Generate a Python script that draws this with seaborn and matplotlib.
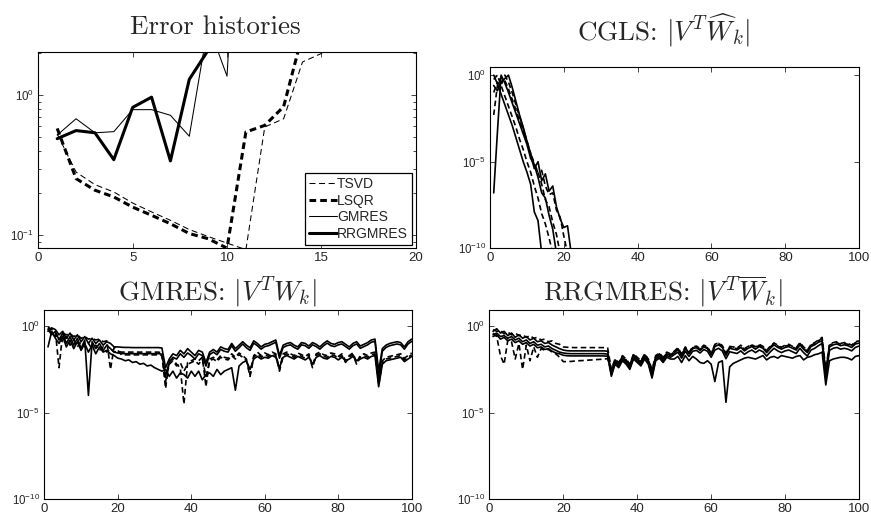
import numpy as np
import matplotlib
matplotlib.use("Agg")
import matplotlib.pyplot as plt
import seaborn as sns

# ---------------------------------------------------------------
# style: plain MATLAB-like look
# ---------------------------------------------------------------
sns.set_style("ticks")
plt.rcParams['font.family'] = ['Liberation Sans', 'DejaVu Sans']
plt.rcParams['mathtext.fontset'] = 'custom'
plt.rcParams['mathtext.rm'] = 'Liberation Sans'
plt.rcParams['mathtext.it'] = 'Liberation Sans:italic'
plt.rcParams['mathtext.bf'] = 'Liberation Sans:bold'
plt.rcParams['mathtext.sf'] = 'Liberation Sans'
plt.rcParams['lines.scale_dashes'] = False
plt.rcParams['axes.linewidth'] = 0.8
plt.rcParams['axes.edgecolor'] = 'black'

# ---------------------------------------------------------------
# data: error histories (iterations 1..)
# ---------------------------------------------------------------
tsvd_err = [0.53, 0.283, 0.23, 0.204, 0.17, 0.147, 0.128, 0.11, 0.098, 0.088,
            0.079, 0.594, 0.68, 1.73, 1.99, 2.6]
lsqr_err = [0.58, 0.254, 0.21, 0.188, 0.159, 0.139, 0.121, 0.103, 0.0946, 0.081,
            0.547, 0.61, 0.83, 2.73]
gmres_err = [0.52, 0.68, 0.54, 0.55, 0.79, 0.79, 0.72, 0.51, 3.2, 1.37, 300.0]
rrgmres_err = [0.49, 0.56, 0.54, 0.347, 0.82, 0.97, 0.34, 1.30, 2.1, 10.0]

# CGLS: log10 |V^T W_k| for the first singular vectors
cgls_1 = [0.0, -0.5, -1.1, -1.7, -2.3, -2.9, -3.6, -4.3, -5.0, -5.6, -6.3, -7.9, -8.4, -10.3]
cgls_2 = [-0.25, 0.0, -0.6, -1.2, -1.8, -2.4, -3.0, -3.7, -4.3, -5.0, -5.6, -6.4, -7.1, -8.0,
          -8.6, -9.4, -10.3]
cgls_3 = [-6.8, -3.3, 0.0, -0.45, -1.0, -1.6, -2.2, -2.8, -3.4, -4.0, -4.8, -5.2, -5.9, -6.8,
          -7.1, -8.1, -8.9, -10.3]
cgls_4 = [-2.3, -0.6, -0.1, -0.3, -0.8, -1.4, -2.0, -2.6, -3.2, -3.9, -4.5, -5.1, -5.6, -6.3,
          -7.2, -7.6, -8.5, -9.2, -10.3]
cgls_5 = [-0.6, -0.9, -0.4, -0.2, 0.0, -0.7, -1.5, -2.3, -3.0, -3.8, -4.6, -5.4, -5.0, -6.1,
          -5.7, -6.7, -6.4, -7.6, -8.3, -8.8, -8.7, -10.3]
cgls_6 = [-1.0, -0.4, -0.6, 0.0, -0.4, -1.0, -1.7, -2.4, -3.1, -3.8, -4.5, -5.2, -5.6, -5.5,
          -6.4, -6.9, -6.8, -7.8, -8.2, -9.3, -10.3]

# GMRES: log10 |V^T W_k|, k = 1..100
gmres_1 = [-0.3, -0.1, -0.2, -0.5, -0.3, -0.7, -0.4, -0.8, -0.5, -0.9,
           -0.6, -1.0, -0.7, -1.0, -0.8, -1.1, -0.9, -1.0, -1.2, -1.2,
           -1.22, -1.23, -1.23, -1.24, -1.24, -1.24, -1.24, -1.24, -1.24, -1.24,
           -1.24, -1.26, -2.4, -1.9, -1.6, -1.7, -1.4, -1.6, -1.3, -1.5,
           -1.7, -1.4, -1.5, -2.1, -1.5, -1.35, -1.5, -1.2, -1.3, -1.35,
           -1.0, -1.3, -1.1, -0.9, -1.1, -1.25, -0.85, -1.0, -1.2, -1.05,
           -1.0, -0.9, -0.8, -1.7, -1.1, -1.0, -0.95, -1.1, -1.2, -0.95,
           -1.0, -1.15, -0.95, -1.05, -1.2, -1.0, -0.85, -1.0, -1.05, -0.95,
           -0.9, -1.05, -1.2, -1.0, -0.9, -1.15, -1.05, -0.95, -0.8, -0.75,
           -2.6, -1.3, -1.1, -1.0, -0.95, -0.9, -0.95, -1.2, -0.9, -0.75]
gmres_2 = [-0.05, -0.2, -0.3, -2.4, -0.4, -0.5, -0.45, -0.6, -0.5, -0.7,
           -0.6, -0.75, -0.7, -0.8, -0.75, -0.9, -0.85, -2.5, -1.2, -1.4,
           -1.66, -1.66, -1.66, -1.66, -1.66, -1.66, -1.66, -1.66, -1.66, -1.66,
           -1.66, -1.7, -3.6, -2.0, -1.9, -2.2, -2.4, -4.5, -2.1, -2.0,
           -1.9, -2.0, -1.8, -3.5, -1.9, -1.8, -1.95, -1.7, -1.8, -1.85,
           -1.6, -1.8, -1.55, -1.7, -1.9, -2.8, -1.7, -1.5, -1.7, -1.55,
           -1.65, -1.5, -1.6, -2.5, -1.6, -1.5, -1.6, -1.7, -1.55, -1.65,
           -1.75, -1.6, -2.3, -1.6, -1.5, -1.65, -1.7, -1.55, -1.6, -1.75,
           -1.6, -2.0, -1.7, -1.55, -2.1, -1.7, -1.6, -1.7, -1.55, -1.5,
           -3.2, -2.0, -1.8, -1.75, -1.7, -1.65, -1.6, -1.85, -1.7, -1.55]
gmres_3 = [-0.2, -0.5, -0.3, -0.8, -0.4, -1.0, -0.6, -1.1, -0.7, -1.3,
           -0.8, -4.0, -0.9, -1.3, -1.0, -1.4, -1.1, -1.3, -1.5, -1.55,
           -1.58, -1.59, -1.59, -1.59, -1.59, -1.59, -1.59, -1.59, -1.59, -1.59,
           -1.59, -1.62, -2.9, -2.1, -1.8, -1.9, -1.6, -1.8, -1.55, -1.7,
           -1.9, -1.6, -1.7, -2.3, -1.65, -1.5, -1.65, -1.35, -1.45, -1.5,
           -1.13, -1.45, -1.25, -1.03, -1.25, -1.4, -0.98, -1.13, -1.33, -1.18,
           -1.13, -1.03, -0.93, -1.85, -1.23, -1.13, -1.08, -1.23, -1.33, -1.08,
           -1.13, -1.28, -1.08, -1.18, -1.33, -1.13, -0.98, -1.13, -1.18, -1.08,
           -1.03, -1.18, -1.33, -1.13, -1.03, -1.28, -1.18, -1.08, -0.93, -0.88,
           -2.9, -1.45, -1.23, -1.13, -1.08, -1.03, -1.08, -1.33, -1.03, -0.88]
gmres_4 = [-0.1, -0.4, -0.6, -0.5, -0.9, -0.6, -1.1, -0.8, -1.2, -0.9,
           -1.2, -1.0, -1.3, -1.1, -1.4, -1.2, -1.5, -1.3, -1.5, -1.45,
           -1.5, -1.5, -1.5, -1.5, -1.5, -1.5, -1.5, -1.5, -1.5, -1.5,
           -1.5, -1.55, -3.2, -2.2, -2.0, -2.3, -2.1, -2.6, -2.2, -2.1,
           -2.0, -2.2, -1.9, -2.9, -2.0, -1.9, -2.05, -1.8, -1.9, -1.95,
           -1.7, -1.9, -1.65, -1.8, -2.0, -2.9, -1.8, -1.6, -1.8, -1.65,
           -1.75, -1.6, -1.7, -2.6, -1.7, -1.6, -1.7, -1.8, -1.65, -1.75,
           -1.85, -1.7, -2.4, -1.7, -1.6, -1.75, -1.8, -1.65, -1.7, -1.85,
           -1.7, -2.1, -1.8, -1.65, -2.2, -1.8, -1.7, -1.8, -1.65, -1.6,
           -3.4, -2.1, -1.9, -1.85, -1.8, -1.75, -1.7, -1.95, -1.8, -1.65]
gmres_5 = [-1.2, -0.3, -0.7, -1.0, -0.6, -1.2, -0.8, -1.3, -0.9, -1.4,
           -1.0, -1.5, -1.1, -1.6, -1.2, -1.5, -1.4, -1.6, -1.7, -1.85,
           -1.9, -2.0, -1.95, -2.1, -2.05, -2.2, -2.15, -2.3, -2.25, -2.4,
           -2.5, -2.6, -2.5, -2.9, -2.6, -3.0, -2.7, -2.8, -3.0, -2.6,
           -2.9, -2.6, -3.1, -2.8, -2.7, -2.9, -2.5, -2.8, -2.6, -2.5,
           -2.4, -3.7, -2.3, -2.1, -2.0, -2.5, -1.9, -1.75, -1.9, -1.8,
           -1.85, -1.7, -1.8, -2.4, -1.8, -1.7, -1.8, -1.9, -1.75, -1.85,
           -1.95, -1.8, -2.2, -1.8, -1.7, -1.85, -1.9, -1.75, -1.8, -1.95,
           -1.8, -2.0, -1.9, -1.75, -2.0, -1.9, -1.8, -1.9, -1.75, -1.7,
           -3.5, -2.2, -2.0, -1.95, -1.9, -1.85, -1.8, -2.05, -1.9, -1.75]

# RRGMRES: log10 |V^T W_k|, k = 1..100
rrgmres_1 = [-0.2, -0.3, -0.25, -0.45, -0.35, -0.5, -0.4, -0.55, -0.5, -0.65,
             -0.55, -0.7, -0.65, -0.8, -0.75, -0.9, -0.85, -1.0, -1.05, -1.2,
             -1.22, -1.23, -1.24, -1.24, -1.24, -1.24, -1.24, -1.24, -1.24, -1.24,
             -1.24, -1.26, -2.5, -1.9, -2.1, -1.7, -1.9, -2.2, -1.6, -1.8,
             -2.0, -1.6, -1.9, -2.5, -1.7, -1.55, -1.8, -1.5, -1.6, -1.45,
             -1.25, -1.6, -1.2, -1.5, -1.2, -1.15, -1.3, -1.1, -1.2, -1.55,
             -1.1, -1.0, -1.15, -1.6, -1.2, -1.25, -1.3, -1.15, -1.35, -1.2,
             -1.1, -1.25, -1.1, -1.2, -1.45, -1.2, -1.0, -1.15, -1.25, -1.15,
             -1.1, -1.2, -1.3, -1.0, -1.25, -1.45, -1.1, -1.0, -0.85, -0.7,
             -2.6, -1.1, -1.0, -0.95, -1.05, -1.0, -1.05, -1.15, -0.95, -0.9]
rrgmres_2 = [-0.3, -0.15, -0.4, -0.3, -0.55, -0.4, -0.65, -0.5, -0.7, -0.6,
             -0.8, -0.7, -0.9, -0.85, -1.0, -0.95, -1.1, -1.2, -1.3, -1.38,
             -1.42, -1.43, -1.43, -1.43, -1.43, -1.43, -1.43, -1.43, -1.43, -1.43,
             -1.43, -1.45, -2.7, -2.0, -2.2, -1.8, -2.0, -2.3, -1.7, -1.9,
             -2.1, -1.7, -2.0, -2.7, -1.8, -1.65, -1.9, -1.6, -1.7, -1.55,
             -1.35, -1.7, -1.3, -1.6, -1.3, -1.25, -1.4, -1.2, -1.3, -1.65,
             -1.18, -1.08, -1.23, -1.68, -1.28, -1.33, -1.38, -1.23, -1.43, -1.28,
             -1.18, -1.33, -1.18, -1.28, -1.53, -1.28, -1.08, -1.23, -1.33, -1.23,
             -1.18, -1.28, -1.38, -1.08, -1.33, -1.53, -1.18, -1.08, -0.93, -0.85,
             -2.8, -1.2, -1.08, -1.03, -1.13, -1.08, -1.13, -1.23, -1.03, -0.98]
rrgmres_3 = [-0.5, -0.4, -0.6, -0.55, -0.7, -0.6, -0.8, -0.7, -0.9, -0.8,
             -1.0, -0.9, -1.1, -1.05, -1.2, -1.15, -1.3, -1.4, -1.5, -1.55,
             -1.58, -1.59, -1.59, -1.59, -1.59, -1.59, -1.59, -1.59, -1.59, -1.59,
             -1.59, -1.62, -2.8, -2.1, -2.3, -1.9, -2.1, -2.4, -1.8, -2.0,
             -2.2, -1.8, -2.1, -2.9, -1.9, -1.75, -2.0, -1.7, -1.8, -1.65,
             -1.5, -1.85, -1.45, -1.75, -1.45, -1.4, -1.55, -1.35, -1.45, -1.8,
             -1.38, -1.28, -1.43, -1.88, -1.48, -1.53, -1.58, -1.43, -1.63, -1.48,
             -1.38, -1.53, -1.38, -1.48, -1.73, -1.48, -1.28, -1.43, -1.53, -1.43,
             -1.38, -1.48, -1.58, -1.28, -1.53, -1.73, -1.38, -1.28, -1.13, -1.0,
             -3.0, -1.4, -1.28, -1.23, -1.33, -1.28, -1.33, -1.43, -1.23, -1.15]
rrgmres_4 = [-0.6, -0.5, -0.75, -0.65, -0.85, -0.75, -0.95, -0.85, -1.05, -0.95,
             -1.15, -1.05, -1.25, -1.2, -1.35, -1.3, -1.45, -1.55, -1.6, -1.68,
             -1.71, -1.72, -1.72, -1.72, -1.72, -1.72, -1.72, -1.72, -1.72, -1.72,
             -1.72, -1.74, -2.9, -2.2, -2.4, -2.0, -2.2, -2.5, -1.9, -2.1,
             -2.3, -1.9, -2.2, -3.0, -2.0, -1.85, -2.1, -1.8, -1.9, -1.9,
             -1.75, -2.1, -1.7, -2.0, -1.75, -1.9, -2.1, -2.15, -2.0, -2.2,
             -3.2, -2.1, -2.0, -4.4, -2.35, -2.15, -2.05, -1.95, -1.85, -1.8,
             -1.85, -1.9, -1.8, -1.7, -1.95, -1.8, -1.75, -1.85, -1.7, -1.75,
             -1.8, -1.85, -1.75, -1.7, -1.95, -1.8, -1.75, -1.65, -1.6, -1.5,
             -3.4, -2.0, -1.9, -1.85, -1.8, -1.8, -1.85, -1.95, -1.75, -1.7]
rrgmres_5 = [-0.4, -0.6, -1.7, -2.2, -0.8, -0.9, -1.9, -1.0, -2.5, -1.1,
             -2.0, -1.2, -1.8, -1.3, -1.4, -1.35, -1.5, -1.6, -1.8, -2.05,
             -2.05, -2.04, -2.02, -2.0, -1.99, -1.98, -1.96, -1.95, -1.93, -1.92,
             -1.9, -1.88, -2.6, -1.95, -2.15, -1.75, -1.95, -2.25, -1.65, -1.85,
             -2.05, -1.65, -1.95, -2.6, -1.75, -1.6, -1.85, -1.55, -1.65, -1.5,
             -1.3, -1.65, -1.25, -1.55, -1.25, -1.2, -1.35, -1.15, -1.25, -1.6,
             -1.05, -0.97, -1.12, -1.55, -1.17, -1.2, -1.27, -1.1, -1.3, -1.17,
             -1.07, -1.2, -1.05, -1.17, -1.4, -1.15, -0.97, -1.1, -1.22, -1.1,
             -1.05, -1.17, -1.25, -0.95, -1.2, -1.4, -1.05, -0.95, -0.8, -0.65,
             -2.5, -1.05, -0.95, -0.9, -1.0, -0.95, -1.0, -1.1, -0.9, -0.85]

# ---------------------------------------------------------------
# figure layout (fractions measured from the reference)
# ---------------------------------------------------------------
fig = plt.figure(figsize=(8.71, 5.18), dpi=100)
ax_err = fig.add_axes([0.044, 0.5207, 0.4333, 0.3784])
ax_cgls = fig.add_axes([0.5626, 0.5207, 0.4237, 0.3506])
ax_gm = fig.add_axes([0.0509, 0.0361, 0.4218, 0.3654])
ax_rr = fig.add_axes([0.5618, 0.0361, 0.4245, 0.3654])

thin_dash = (0, (4.3, 2.6))
thick_dash = (0, (4.8, 2.9))
panel_dash = (0, (4.0, 2.4))


def draw(ax, vals, dashed, lw=1.2, label=None, logvals=True):
    y = 10.0 ** np.array(vals) if logvals else np.array(vals)
    x = np.arange(1, len(y) + 1)
    ls = dashed if dashed else '-'
    sns.lineplot(x=x, y=y, ax=ax, color='black', lw=lw, linestyle=ls,
                 errorbar=None, label=label, legend=False)


# 1) error histories
draw(ax_err, tsvd_err, thin_dash, lw=0.75, label='TSVD', logvals=False)
draw(ax_err, lsqr_err, thick_dash, lw=2.2, label='LSQR', logvals=False)
draw(ax_err, gmres_err, None, lw=0.75, label='GMRES', logvals=False)
draw(ax_err, rrgmres_err, None, lw=2.2, label='RRGMRES', logvals=False)

# 2) CGLS
for vals, dashed in [(cgls_1, None), (cgls_2, panel_dash), (cgls_3, None),
                     (cgls_4, panel_dash), (cgls_5, None), (cgls_6, panel_dash)]:
    draw(ax_cgls, vals, dashed)

# 3) GMRES
for vals, dashed in [(gmres_1, None), (gmres_2, panel_dash), (gmres_3, None),
                     (gmres_4, panel_dash), (gmres_5, None)]:
    draw(ax_gm, vals, dashed)

# 4) RRGMRES
for vals, dashed in [(rrgmres_1, panel_dash), (rrgmres_2, None), (rrgmres_3, None),
                     (rrgmres_4, None), (rrgmres_5, panel_dash)]:
    draw(ax_rr, vals, dashed)

# ---------------------------------------------------------------
# axes formatting
# ---------------------------------------------------------------
for ax in [ax_err, ax_cgls, ax_gm, ax_rr]:
    ax.set_yscale('log')
    ax.set_xlabel('')
    ax.set_ylabel('')
    for sp in ax.spines.values():
        sp.set_visible(True)
        sp.set_linewidth(0.8)
    ax.tick_params(which='both', direction='in', top=True, right=True, width=0.6)
    ax.tick_params(axis='x', labelsize=9.5)
    ax.tick_params(axis='y', labelsize=8.3)
    ax.tick_params(which='major', length=3.5, pad=3)
    ax.tick_params(which='minor', length=2)

ax_err.set_xlim(0, 20)
ax_err.set_ylim(0.0808, 2.03)
ax_err.set_xticks([0, 5, 10, 15, 20])
ax_err.set_yticks([0.1, 1.0])
ax_err.set_yticklabels([r'$10^{-1}$', r'$10^{0}$'])
ax_err.set_yticks([0.09, 0.2, 0.3, 0.4, 0.5, 0.6, 0.7, 0.8, 0.9, 2.0], minor=True)
ax_err.set_yticklabels([], minor=True)

for ax, ytop in [(ax_cgls, 10 ** 0.49), (ax_gm, 10 ** 0.93), (ax_rr, 10 ** 0.93)]:
    ax.set_xlim(0, 100)
    ax.set_ylim(1e-10, ytop)
    ax.set_xticks([0, 20, 40, 60, 80, 100])
    ax.set_yticks([1e-10, 1e-5, 1.0])
    ax.set_yticklabels([r'$10^{-10}$', r'$10^{-5}$', r'$10^{0}$'])
    ax.set_yticks([], minor=True)

leg = ax_err.legend(loc='lower right', fontsize=10, frameon=True, fancybox=False,
                    edgecolor='black', framealpha=1, borderpad=0.3, labelspacing=0.18,
                    handlelength=2.0, handletextpad=0.05, borderaxespad=0.25)
leg.get_frame().set_linewidth(0.9)

title_kw = dict(fontsize=19.5, fontfamily='cmr10', math_fontfamily='cm', x=0.47)
ax_err.set_title('Error histories', pad=13, **title_kw)
ax_cgls.set_title(r'CGLS: $|V^T\widehat{W}_k|$', pad=19, **title_kw)
ax_gm.set_title(r'GMRES: $|V^TW_k|$', pad=7, **title_kw)
ax_rr.set_title(r'RRGMRES: $|V^T\overline{W}_k|$', pad=7, **title_kw)

fig.savefig('out.png', dpi=100)
